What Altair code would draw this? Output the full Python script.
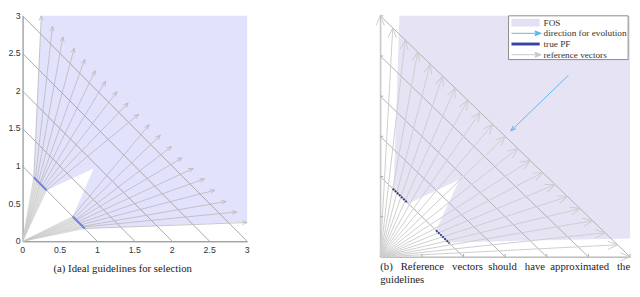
import math
import altair as alt
import pandas as pd

# ---------------- data ----------------
tick_vals = [0, 0.5, 1, 1.5, 2, 2.5, 3]
tick_labels = ["0", "0.5", "1", "1.5", "2", "2.5", "3"]
diag_c = [1, 1.5, 2, 2.5, 3]

# true PF (two pieces on x+y=1)
pf1_x = [0.15, 0.32]
pf1_y = [0.85, 0.68]
pf2_x = [0.67, 0.83]
pf2_y = [0.33, 0.17]

# feasible objective space polygon
fos_x = [0.15, 0.25, 3.0, 3.0, 0.83, 0.67, 0.95, 0.32]
fos_y = [0.85, 3.0, 3.0, 0.26, 0.17, 0.33, 0.97, 0.68]
fosb_x = [0.16, 0.23, 3.0, 3.0, 0.82, 0.67, 0.95, 0.33]
fosb_y = [0.82, 3.0, 3.0, 0.23, 0.18, 0.33, 0.96, 0.66]

# (a) guideline arrows: start on the PF, tips
ga_x0 = [0.15, 0.17, 0.19, 0.21, 0.23, 0.24, 0.26, 0.28, 0.30, 0.32,
         0.67, 0.69, 0.71, 0.72, 0.74, 0.76, 0.78, 0.80, 0.81, 0.83]
ga_y0 = [0.85, 0.83, 0.81, 0.79, 0.77, 0.76, 0.74, 0.72, 0.70, 0.68,
         0.33, 0.31, 0.29, 0.28, 0.26, 0.24, 0.22, 0.20, 0.19, 0.17]
ga_x1 = [0.25, 0.40, 0.54, 0.69, 0.83, 0.97, 1.11, 1.26, 1.41, 1.55,
         1.69, 1.84, 1.99, 2.13, 2.28, 2.43, 2.57, 2.72, 2.86, 3.00]
ga_y1 = [3.00, 2.86, 2.72, 2.57, 2.42, 2.27, 2.13, 1.99, 1.84, 1.69,
         1.55, 1.41, 1.26, 1.11, 0.97, 0.83, 0.68, 0.53, 0.39, 0.25]

# (b) reference vectors from the origin
rv_x1 = [0.0, 0.15, 0.3, 0.45, 0.6, 0.75, 0.9, 1.05, 1.2, 1.35, 1.5,
         1.65, 1.8, 1.95, 2.1, 2.25, 2.4, 2.55, 2.7, 2.85, 3.0]
rv_y1 = [3.0, 2.85, 2.7, 2.55, 2.4, 2.25, 2.1, 1.95, 1.8, 1.65, 1.5,
         1.35, 1.2, 1.05, 0.9, 0.75, 0.6, 0.45, 0.3, 0.15, 0.0]

evo_x = [2.26, 1.57]
evo_y = [2.26, 1.57]

legend_labels = ["FOS", "direction for evolution", "true PF", "reference vectors"]
caption_a = "(a) Ideal guidelines for selection"
caption_b1 = "(b) Reference vectors should have approximated the"
caption_b2 = "guidelines"

# ---------------- styling ----------------
LW, LH = 231, 232
RW, RH = 257, 248
FOS_A = "#e2e2fc"
FOS_B = "#e6e4f4"
SERIF = "Liberation Serif"
SANS = "Liberation Sans"
HEAD = "M -1 -0.42 L 0 0 L -1 0.42"
SC = alt.Scale(domain=[0, 3], nice=False, zero=False)


def X(f, axis=alt.Undefined):
    return alt.X(f, type="quantitative", scale=SC, axis=axis)


def Y(f, axis=alt.Undefined):
    return alt.Y(f, type="quantitative", scale=SC, axis=axis)


def seg_df(x0, y0, x1, y1, sx, sy):
    rows = []
    for a0, b0, a1, b1 in zip(x0, y0, x1, y1):
        ang = math.degrees(math.atan2(-(b1 - b0) * sy, (a1 - a0) * sx)) % 360
        rows.append({"x0": a0, "y0": b0, "x1": a1, "y1": b1, "ang": ang})
    return pd.DataFrame(rows)


def arrow_layers(df, color, width, head_size):
    shaft = alt.Chart(df).mark_rule(color=color, strokeWidth=width).encode(
        x=X("x0"), y=Y("y0"), x2="x1", y2="y1")
    head = alt.Chart(df).mark_point(shape=HEAD, filled=False, color=color, strokeWidth=width,
                                    size=head_size, opacity=1).encode(
        x=X("x1"), y=Y("y1"), angle=alt.Angle("ang:Q", scale=None))
    return [shaft, head]


def polygon(xs, ys, color):
    df = pd.DataFrame({"x": xs + [xs[0]], "y": ys + [ys[0]], "i": list(range(len(xs) + 1))})
    return alt.Chart(df).mark_line(fill=color, strokeOpacity=0, interpolate="linear").encode(
        x=X("x"), y=Y("y"), order="i:Q")


diag_df = pd.DataFrame({"x0": [0] * len(diag_c), "y0": diag_c, "x1": diag_c, "y1": [0] * len(diag_c)})
tl_df = pd.DataFrame({"v": tick_vals, "t": tick_labels})

# ---------------- panel (a) ----------------
sxa, sya = LW / 3, LH / 3
axis_a = alt.Axis(labels=False, domainColor="#777")

base_a = alt.Chart(pd.DataFrame({"x": [0], "y": [0]})).mark_point(opacity=0).encode(
    x=X("x", axis_a), y=Y("y", axis_a))

xlab_a = alt.Chart(tl_df).mark_text(font=SANS, fontSize=9, color="#333", align="center",
                                    baseline="top").encode(
    x=X("v"), y=alt.value(LH + 5), text="t:N")
ylab_a = alt.Chart(tl_df).mark_text(font=SANS, fontSize=9, color="#333", align="right",
                                    baseline="middle").encode(
    y=Y("v"), x=alt.value(-2), text="t:N")

wedge_df = pd.DataFrame({"x0": [0] * len(ga_x0), "y0": [0] * len(ga_x0), "x1": ga_x0, "y1": ga_y0})
wedge_tri1 = polygon([0, pf1_x[0], pf1_x[1]], [0, pf1_y[0], pf1_y[1]], "#e8e8e8")
wedge_tri2 = polygon([0, pf2_x[0], pf2_x[1]], [0, pf2_y[0], pf2_y[1]], "#e8e8e8")
wedges = alt.Chart(wedge_df).mark_rule(color="#c8c8c8", strokeWidth=0.6).encode(
    x=X("x0"), y=Y("y0"), x2="x1", y2="y1")

diag_a = alt.Chart(diag_df).mark_rule(color="#a6a6a6", strokeWidth=1).encode(
    x=X("x0"), y=Y("y0"), x2="x1", y2="y1")

pf_df = pd.DataFrame({"x0": [pf1_x[0], pf2_x[0]], "y0": [pf1_y[0], pf2_y[0]],
                      "x1": [pf1_x[1], pf2_x[1]], "y1": [pf1_y[1], pf2_y[1]]})
pf_a = alt.Chart(pf_df).mark_rule(color="#7480d8", strokeWidth=2).encode(
    x=X("x0"), y=Y("y0"), x2="x1", y2="y1")

ga_df = seg_df(ga_x0, ga_y0, ga_x1, ga_y1, sxa, sya)

cap_a = alt.Chart(pd.DataFrame({"t": [caption_a]})).mark_text(
    font=SERIF, fontSize=11, color="#222", align="center", baseline="alphabetic").encode(
    text="t:N", x=alt.value(103), y=alt.value(264))

panel_a = alt.layer(
    base_a, polygon(fos_x, fos_y, FOS_A), wedge_tri1, wedge_tri2, wedges, diag_a,
    *arrow_layers(ga_df, "#b8b8b8", 0.8, 90), pf_a, xlab_a, ylab_a, cap_a
).properties(width=LW, height=LH)

# ---------------- panel (b) ----------------
sxb, syb = RW / 3, RH / 3
axis_b = alt.Axis(labels=False, domainColor="#a8a8a8")
base_b = alt.Chart(pd.DataFrame({"x": [0], "y": [0]})).mark_point(opacity=0).encode(
    x=X("x", axis_b), y=Y("y", axis_b))

tick_df = pd.DataFrame({"v": tick_vals[1:]})
ticks_bx = alt.Chart(tick_df).mark_rule(color="#a8a8a8").encode(
    x=X("v"), y=alt.value(RH), y2=alt.value(RH - 3))
ticks_by = alt.Chart(tick_df).mark_rule(color="#a8a8a8").encode(
    y=Y("v"), x=alt.value(0), x2=alt.value(3))

diag_b = alt.Chart(diag_df).mark_rule(color="#b0b0b0", strokeWidth=1).encode(
    x=X("x0"), y=Y("y0"), x2="x1", y2="y1")

rv_df = seg_df([0] * len(rv_x1), [0] * len(rv_x1), rv_x1, rv_y1, sxb, syb)
evo_df = seg_df([evo_x[0]], [evo_y[0]], [evo_x[1]], [evo_y[1]], sxb, syb)

pf_b = alt.Chart(pf_df).mark_rule(color="#2f3d9c", strokeWidth=2, strokeDash=[2, 1]).encode(
    x=X("x0"), y=Y("y0"), x2="x1", y2="y1")

# legend (drawn by hand in pixel space)
one = pd.DataFrame({"k": [0]})
LX0, LX1 = 132, 255
leg_box = alt.Chart(one).mark_rect(fill="white", stroke="#8a8a8a", strokeWidth=1).encode(
    x=alt.value(LX0), x2=alt.value(LX1), y=alt.value(0), y2=alt.value(45))
rows_y = [7, 18, 29, 40]
sx0, sx1, tx = 135, 164, 168
leg_fos = alt.Chart(one).mark_rect(fill="#e2e0f2").encode(
    x=alt.value(sx0), x2=alt.value(sx1), y=alt.value(rows_y[0] - 4), y2=alt.value(rows_y[0] + 4))
leg_evo = alt.Chart(one).mark_rule(color="#5cb8ea", strokeWidth=1).encode(
    x=alt.value(sx0), x2=alt.value(sx1), y=alt.value(rows_y[1]))
leg_evo_h = alt.Chart(one).mark_point(shape=HEAD, filled=False, color="#5cb8ea", size=100, opacity=1).encode(
    x=alt.value(sx1), y=alt.value(rows_y[1]))
leg_pf = alt.Chart(one).mark_rule(color="#3444a8", strokeWidth=3).encode(
    x=alt.value(sx0), x2=alt.value(sx1), y=alt.value(rows_y[2]))
leg_rv = alt.Chart(one).mark_rule(color="#c8c8c8", strokeWidth=1).encode(
    x=alt.value(sx0), x2=alt.value(sx1), y=alt.value(rows_y[3]))
leg_rv_h = alt.Chart(one).mark_point(shape=HEAD, filled=False, color="#c8c8c8", size=100, opacity=1).encode(
    x=alt.value(sx1), y=alt.value(rows_y[3]))
leg_texts = [
    alt.Chart(pd.DataFrame({"t": [lab]})).mark_text(
        font=SERIF, fontSize=9.5, color="#333", align="left", baseline="middle").encode(
        text="t:N", x=alt.value(tx), y=alt.value(ry))
    for lab, ry in zip(legend_labels, rows_y)
]

NB = "\u00a0"
words = caption_b1.split(" ")
gaps = [3, 3, 2, 3, 2, 3]
cap_b1_txt = words[0]
for w, g in zip(words[1:], gaps):
    cap_b1_txt += NB * g + w
cap_b1 = alt.Chart(pd.DataFrame({"t": [cap_b1_txt]})).mark_text(
    font=SERIF, fontSize=11, color="#222", align="left", baseline="alphabetic").encode(
    text="t:N", x=alt.value(0), y=alt.value(261))
cap_b2 = alt.Chart(pd.DataFrame({"t": [caption_b2]})).mark_text(
    font=SERIF, fontSize=11, color="#222", align="left", baseline="alphabetic").encode(
    text="t:N", x=alt.value(0), y=alt.value(275))

panel_b = alt.layer(
    base_b, polygon(fosb_x, fosb_y, FOS_B), diag_b,
    *arrow_layers(rv_df, "#cdcdcd", 1, 400),
    *arrow_layers(evo_df, "#5cb8ea", 1, 100),
    pf_b, ticks_bx, ticks_by,
    leg_box, leg_fos, leg_evo, leg_evo_h, leg_pf, leg_rv, leg_rv_h, *leg_texts,
    cap_b1, cap_b2
).properties(width=RW, height=RH)

chart = alt.hconcat(panel_a, panel_b, spacing=127).resolve_scale(
    x="independent", y="independent"
).properties(padding=0).configure_view(stroke=None).configure_axis(
    ticks=False, grid=False, title=None, domainWidth=1
)

chart.save("out.html", embed_options={"renderer": "svg", "actions": False})
